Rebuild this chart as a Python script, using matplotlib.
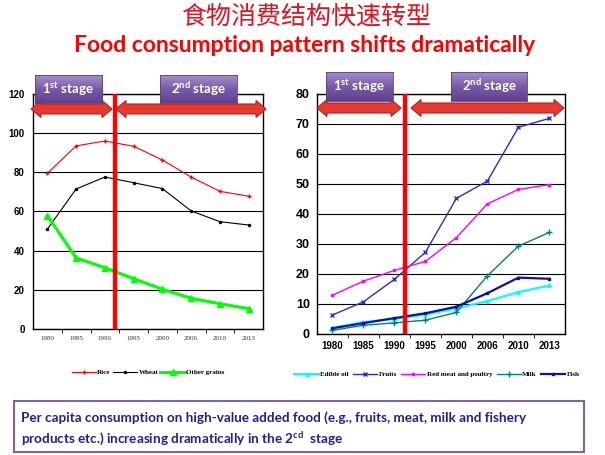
import numpy as np
import matplotlib
matplotlib.use("Agg")
import matplotlib.pyplot as plt
import matplotlib.patches as mpatches
from matplotlib.colors import LinearSegmentedColormap

plt.rcParams['font.family'] = ['DejaVu Sans']
plt.rcParams['mathtext.fontset'] = 'custom'
plt.rcParams['mathtext.rm'] = 'Lato:bold'
plt.rcParams['mathtext.it'] = 'Lato:bold'
plt.rcParams['mathtext.bf'] = 'Lato:bold'

# ---- data ----
years = ['1980', '1985', '1990', '1995', '2000', '2006', '2010', '2013']

rice = [79.5, 93.5, 96.0, 93.3, 86.3, 77.6, 70.3, 67.8]
wheat = [51.0, 71.5, 77.6, 74.7, 71.7, 60.3, 54.8, 53.1]
other_grains = [57.9, 36.3, 31.3, 25.7, 20.3, 15.7, 12.9, 10.4]

edible_oil = [2.0, 4.0, 5.0, 6.5, 8.5, 11.0, 14.0, 16.2]
fruits = [6.3, 10.7, 18.2, 27.2, 45.2, 51.0, 68.9, 71.9]
red_meat = [12.9, 17.6, 21.2, 24.2, 32.1, 43.4, 48.2, 49.8]
milk = [1.2, 2.9, 3.7, 4.6, 7.2, 19.4, 29.3, 33.9]
fish = [1.9, 3.6, 5.3, 6.9, 9.1, 13.6, 18.8, 18.4]

stage_split = 2.35  # position of the red divider between 1990 and 1995

W, H = 605, 455
fig = plt.figure(figsize=(W / 100, H / 100), dpi=100)


def fx(px):
    return px / W


def fy(py):
    return 1 - py / H


x = np.arange(len(years))

# ---- left chart: grains ----
ax1 = fig.add_axes([fx(33), fy(329), fx(230), (329 - 94) / H])
ax1.plot(x, rice, color='#ff0000', lw=0.8, marker='+', ms=3, label='Rice')
ax1.plot(x, wheat, color='#000000', lw=0.8, marker='.', ms=3, label='Wheat')
ax1.plot(x, other_grains, color='#00ff00', lw=2.2, marker='^', ms=4, label='Other grains')
ax1.set_ylim(0, 120)
ax1.set_yticks(np.arange(0, 121, 20))
ax1.set_xlim(-0.5, len(years) - 0.5)
ax1.set_xticks(x)
ax1.set_xticklabels(years, fontsize=5, family='Liberation Serif', color='#333333')
ax1.set_xticks(np.arange(0.5, len(years) - 1, 1), minor=True)
ax1.tick_params(axis='x', which='major', length=0, pad=5)
ax1.tick_params(axis='x', which='minor', length=3, direction='out')
ax1.tick_params(axis='y', length=0, labelsize=7, pad=6)
for t in ax1.get_yticklabels():
    t.set_fontweight('bold')
    t.set_family('Liberation Sans')
ax1.grid(axis='y', color='black', lw=0.8)
for s in ax1.spines.values():
    s.set_linewidth(1.0)
ax1.axvline(stage_split, color='#ff0000', lw=3.2, zorder=5)
ax1.legend(loc='center', bbox_to_anchor=(fx(148), fy(372)), bbox_transform=fig.transFigure,
           ncol=3, frameon=False, prop={'family': 'Liberation Serif', 'weight': 'bold', 'size': 5},
           handlelength=3.5, columnspacing=0.3, handletextpad=0.2)

# ---- right chart: high-value foods ----
ax2 = fig.add_axes([fx(316.7), fy(334), fx(248.3), (334 - 94) / H])
ax2.plot(x, edible_oil, color='#00ffff', lw=1.5, marker='^', ms=2.5, label='Edible oil')
ax2.plot(x, fruits, color='#2a2ad8', lw=1.0, marker='x', ms=2.5, label='Fruits')
ax2.plot(x, red_meat, color='#ff00ff', lw=1.0, marker='s', ms=2, label='Red meat and poultry')
ax2.plot(x, milk, color='#008080', lw=1.0, marker='+', ms=4, label='Milk')
ax2.plot(x, fish, color='#1010a0', lw=1.6, marker='s', ms=1.8, label='Fish')
ax2.set_ylim(0, 80)
ax2.set_yticks(np.arange(0, 81, 10))
ax2.set_xlim(-0.5, len(years) - 0.5)
ax2.set_xticks(x)
ax2.set_xticklabels(years, fontsize=7, family='Liberation Sans', fontweight='bold')
ax2.set_xticks(np.arange(0.5, len(years) - 1, 1), minor=True)
ax2.tick_params(axis='x', which='major', length=0, pad=5)
ax2.tick_params(axis='x', which='minor', length=3, direction='out')
ax2.tick_params(axis='y', length=0, labelsize=9, pad=5)
for t in ax2.get_yticklabels():
    t.set_fontweight('bold')
    t.set_family('Liberation Sans')
ax2.grid(axis='y', color='black', lw=0.8)
for s in ax2.spines.values():
    s.set_linewidth(1.0)
ax2.axvline(stage_split, color='#ff0000', lw=3.2, zorder=5)
ax2.legend(loc='center', bbox_to_anchor=(fx(437), fy(374)), bbox_transform=fig.transFigure,
           ncol=5, frameon=False, prop={'family': 'Liberation Serif', 'weight': 'bold', 'size': 5},
           handlelength=3.5, columnspacing=0.6, handletextpad=0.2)


# ---- stage arrows and labels ----
def double_arrow(x0, x1, yc, body=10, head=17, head_len=10):
    pts = [(x0, yc), (x0 + head_len, yc - head / 2), (x0 + head_len, yc - body / 2),
           (x1 - head_len, yc - body / 2), (x1 - head_len, yc - head / 2), (x1, yc),
           (x1 - head_len, yc + head / 2), (x1 - head_len, yc + body / 2),
           (x0 + head_len, yc + body / 2), (x0 + head_len, yc + head / 2)]
    pts = [(fx(a), fy(b)) for a, b in pts]
    fig.patches.append(mpatches.Polygon(pts, closed=True, transform=fig.transFigure,
                                        facecolor='#e53a2f', edgecolor='#b52020', lw=0.8, zorder=3))


purple = LinearSegmentedColormap.from_list('stage', ['#a48fc8', '#7a5aa8', '#5f3f8f'])


def stage_box(x0, x1, y0, y1, text):
    bax = fig.add_axes([fx(x0), fy(y1), fx(x1 - x0), (y1 - y0) / H], zorder=4)
    bax.imshow(np.linspace(0, 1, 50).reshape(-1, 1), cmap=purple, aspect='auto',
               extent=[0, 1, 0, 1])
    bax.set_xlim(0, 1)
    bax.set_ylim(0, 1)
    bax.set_xticks([])
    bax.set_yticks([])
    for s in bax.spines.values():
        s.set_color('#5a3f86')
        s.set_linewidth(0.6)
    bax.text(0.5, 0.5, text, color='white', fontsize=9.5, fontweight='bold',
             family='Lato', ha='center', va='center')


double_arrow(31, 112, 109)
double_arrow(116, 266, 109)
double_arrow(317, 401, 108)
double_arrow(411, 564, 108)

stage_box(35, 102, 75, 103, r'1$^{st}$ stage')
stage_box(160, 237, 75, 103, r'2$^{nd}$ stage')
stage_box(326, 393, 72, 101, r'1$^{st}$ stage')
stage_box(451, 527, 72, 101, r'2$^{nd}$ stage')

# ---- titles ----
fig.text(fx(306), fy(17), '食物消费结构快速转型', color='#e8101c', fontsize=18,
         family=['Noto Sans CJK SC', 'DejaVu Sans'], ha='center', va='center')
fig.text(fx(305), fy(46), 'Food consumption pattern shifts dramatically', color='#ff0000',
         fontsize=16.5, fontweight='bold', family='Lato', ha='center', va='center')

# ---- bottom note ----
fig.patches.append(mpatches.Rectangle((fx(14), fy(452)), fx(570), (452 - 401) / H,
                                      transform=fig.transFigure, facecolor='white',
                                      edgecolor='#8064a2', lw=1.5))
fig.text(fx(21), fy(418), 'Per capita consumption on high-value added food (e.g., fruits, meat, milk and fishery',
         color='#2a1a96', fontsize=9.7, fontweight='bold', family='Lato', va='center')
fig.text(fx(21), fy(439), r'products etc.) increasing dramatically in the 2$^{cd}$  stage',
         color='#2a1a96', fontsize=9.7, fontweight='bold', family='Lato', va='center')

fig.savefig('out.png', dpi=100)
